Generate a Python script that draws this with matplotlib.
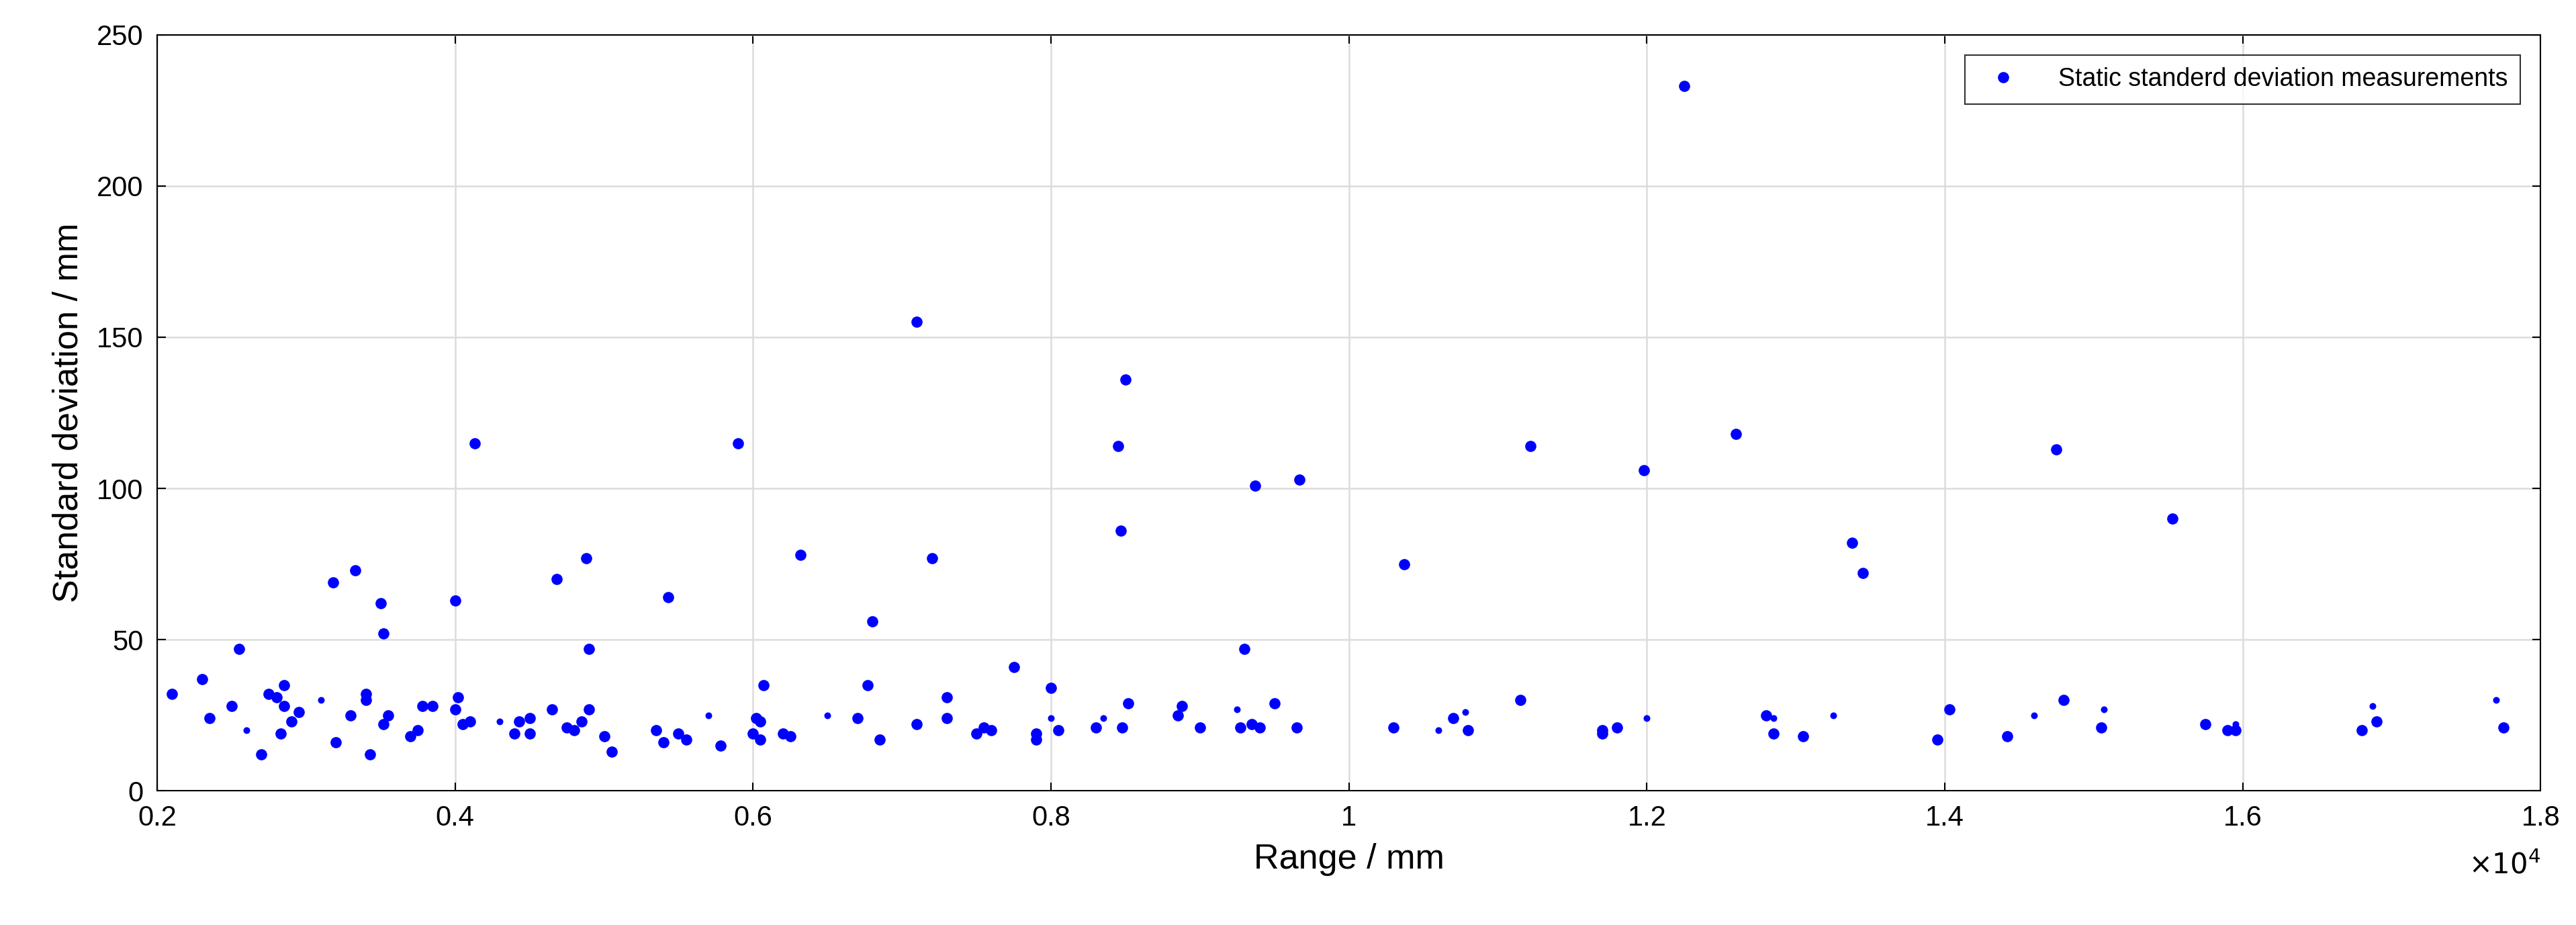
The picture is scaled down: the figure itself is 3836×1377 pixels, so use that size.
import matplotlib
matplotlib.use("Agg")
import matplotlib.pyplot as plt

plt.rcParams['font.family'] = ['Liberation Sans', 'DejaVu Sans']

# range in units of 1e4 mm, std dev in mm
range_big = [0.21, 0.23, 0.235, 0.25, 0.255, 0.27, 0.275, 0.28, 0.285, 0.285, 0.283, 0.29, 0.295,
             0.318, 0.32, 0.33, 0.333, 0.34, 0.34, 0.343, 0.35, 0.352, 0.352, 0.355, 0.37, 0.375,
             0.378, 0.385, 0.40, 0.40, 0.402, 0.405, 0.41, 0.413, 0.44, 0.443, 0.45, 0.45, 0.465,
             0.468, 0.475, 0.48, 0.485, 0.488, 0.49, 0.49, 0.50, 0.505, 0.535, 0.54, 0.543, 0.55,
             0.555, 0.578, 0.59, 0.60, 0.602, 0.605, 0.605, 0.607, 0.62, 0.625, 0.632, 0.67, 0.677,
             0.68, 0.685, 0.71, 0.71, 0.72, 0.73, 0.73, 0.75, 0.755, 0.76, 0.775, 0.79, 0.79, 0.80,
             0.805, 0.83, 0.845, 0.847, 0.848, 0.85, 0.852, 0.885, 0.888, 0.90, 0.927, 0.93, 0.935,
             0.937, 0.94, 0.95, 0.965, 0.967, 1.03, 1.037, 1.07, 1.08, 1.115, 1.122, 1.17, 1.17,
             1.18, 1.198, 1.225, 1.26, 1.28, 1.285, 1.305, 1.338, 1.345, 1.395, 1.403, 1.442,
             1.475, 1.48, 1.505, 1.553, 1.575, 1.59, 1.595, 1.68, 1.69, 1.775]
std_big = [32, 37, 24, 28, 47, 12, 32, 31, 28, 35, 19, 23, 26,
           69, 16, 25, 73, 30, 32, 12, 62, 52, 22, 25, 18, 20,
           28, 28, 27, 63, 31, 22, 23, 115, 19, 23, 24, 19, 27,
           70, 21, 20, 23, 77, 47, 27, 18, 13, 20, 16, 64, 19,
           17, 15, 115, 19, 24, 23, 17, 35, 19, 18, 78, 24, 35,
           56, 17, 155, 22, 77, 31, 24, 19, 21, 20, 41, 19, 17, 34,
           20, 21, 114, 86, 21, 136, 29, 25, 28, 21, 21, 47, 22,
           101, 21, 29, 21, 103, 21, 75, 24, 20, 30, 114, 19, 20,
           21, 106, 233, 118, 25, 19, 18, 82, 72, 17, 27, 18,
           113, 30, 21, 90, 22, 20, 20, 20, 23, 21]
range_small = [0.26, 0.31, 0.43, 0.57, 0.65, 0.80, 0.835, 0.925, 1.06, 1.078, 1.20, 1.285,
               1.325, 1.46, 1.507, 1.595, 1.687, 1.77]
std_small = [20, 30, 23, 25, 25, 24, 24, 27, 20, 26, 24, 24, 25, 25, 27, 22, 28, 30]

fig = plt.figure(figsize=(12.79, 4.59), dpi=300)
ax = fig.add_axes([0.061, 0.145, 0.925, 0.8175])
ax.plot([r * 1e4 for r in range_big], std_big, 'o', color='#0000ff', markersize=4,
        markeredgewidth=0, label='Static standerd deviation measurements')
ax.plot([r * 1e4 for r in range_small], std_small, 'o', color='#0000ff', markersize=2.4,
        markeredgewidth=0)

xticks = [2000, 4000, 6000, 8000, 10000, 12000, 14000, 16000, 18000]
ax.set_xlim(2000, 18000)
ax.set_ylim(0, 250)
ax.set_xticks(xticks)
ax.set_xticklabels(['0.2', '0.4', '0.6', '0.8', '1', '1.2', '1.4', '1.6', '1.8'])
ax.set_yticks([0, 50, 100, 150, 200, 250])
ax.tick_params(labelsize=10, direction='in', length=3, width=0.5, top=True, right=True, pad=5)
ax.grid(True, color='#dcdcdc', linewidth=0.6)
ax.set_axisbelow(True)
for s in ax.spines.values():
    s.set_linewidth(0.5)
ax.set_xlabel('Range / mm', fontsize=12.5, labelpad=4)
ax.set_ylabel('Standard deviation / mm', fontsize=12.5)
ax.text(1.0, -0.08, r'$\times10^4$', transform=ax.transAxes, ha='right', va='top', fontsize=10)
leg = ax.legend(loc='upper right', fontsize=9, fancybox=False, edgecolor='black',
                handletextpad=1.2, borderpad=0.5, borderaxespad=0.8)
leg.get_frame().set_linewidth(0.5)
fig.savefig('out.png', dpi=300)
